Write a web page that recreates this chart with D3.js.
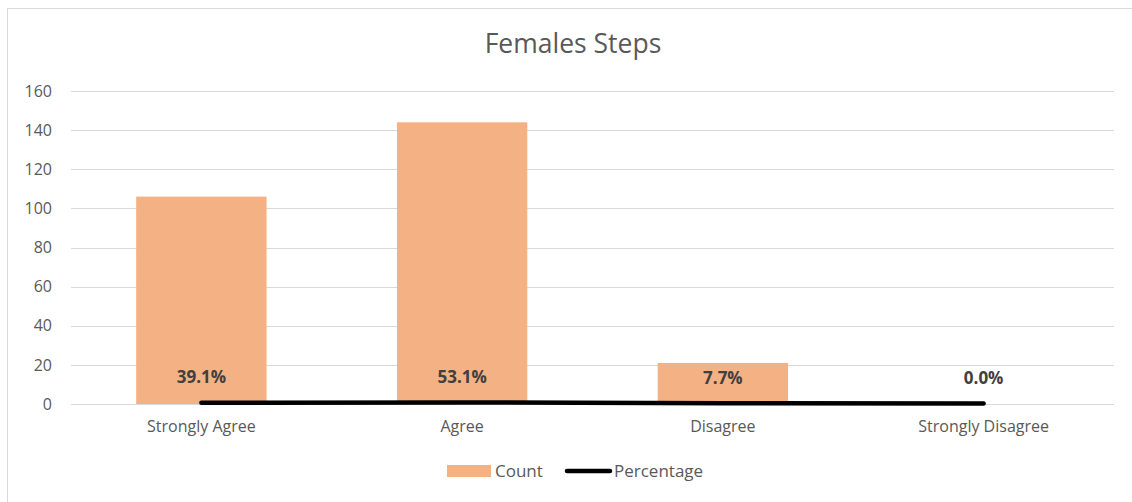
<!DOCTYPE html>
<html>
<head>
<meta charset="utf-8">
<script src="https://cdn.jsdelivr.net/npm/d3@7"></script>
<style>
  html, body { margin: 0; padding: 0; background: #fff; }
  svg { display: block; font-family: "Open Sans", "Liberation Sans", sans-serif; }
</style>
</head>
<body>
<svg id="chart" width="1132" height="502"></svg>
<script>
const categories = ["Strongly Agree", "Agree", "Disagree", "Strongly Disagree"];
const counts = [106, 144, 21, 0];
const percentages = [0.391, 0.531, 0.077, 0.0];
const yTicks = [0, 20, 40, 60, 80, 100, 120, 140, 160];
const titleText = "Females Steps";
const legendLabels = ["Count", "Percentage"];

const svg = d3.select("#chart");
const W = 1132, H = 502;
const margin = { left: 71, right: 18, top: 91, bottom: 98 };
const plotW = W - margin.left - margin.right;
const plotH = H - margin.top - margin.bottom;

// outer chart border
svg.append("rect")
  .attr("x", 7.5).attr("y", 8.5)
  .attr("width", W + 10).attr("height", H + 10)
  .attr("fill", "none").attr("stroke", "#d9d9d9").attr("stroke-width", 1);

const g = svg.append("g").attr("transform", `translate(${margin.left},${margin.top})`);

const x = d3.scaleBand().domain(categories).range([0, plotW]).paddingInner(0.5).paddingOuter(0.25);
const y = d3.scaleLinear().domain([0, 160]).range([plotH, 0]);

// gridlines
g.append("g").selectAll("line").data(yTicks).join("line")
  .attr("x1", 0).attr("x2", plotW)
  .attr("y1", d => Math.round(y(d)) + 0.5).attr("y2", d => Math.round(y(d)) + 0.5)
  .attr("stroke", "#d9d9d9").attr("stroke-width", 1);

// y axis labels
const yAxis = d3.axisLeft(y).tickValues(yTicks).tickSize(0).tickPadding(19);
const ya = g.append("g").call(yAxis);
ya.select(".domain").remove();
ya.selectAll("text").attr("fill", "#595959").style("font-size", "16px")
  .attr("font-family", "\"Open Sans\", sans-serif");

// bars
g.append("g").selectAll("rect").data(counts).join("rect")
  .attr("x", (d, i) => x(categories[i]))
  .attr("width", x.bandwidth())
  .attr("y", d => y(d))
  .attr("height", d => plotH - y(d))
  .attr("fill", "#f4b183");

// x axis labels
const xAxis = d3.axisBottom(x).tickSize(0).tickPadding(17);
const xa = g.append("g").attr("transform", `translate(0,${plotH})`).call(xAxis);
xa.select(".domain").remove();
xa.selectAll("text").attr("fill", "#595959").style("font-size", "16px")
  .attr("font-family", "\"Open Sans\", sans-serif");

// percentage line (plotted on same axis)
const cx = c => x(c) + x.bandwidth() / 2;
const line = d3.line().x((d, i) => cx(categories[i])).y(d => y(d) - 0.5);
g.append("path").datum(percentages)
  .attr("d", line)
  .attr("fill", "none").attr("stroke", "#000").attr("stroke-width", 4.5)
  .attr("stroke-linecap", "round");

// percentage labels
g.append("g").selectAll("text").data(percentages).join("text")
  .attr("x", (d, i) => cx(categories[i]))
  .attr("y", d => y(d) - 20)
  .attr("text-anchor", "middle")
  .attr("fill", "#404040")
  .style("font-size", "17px").style("font-weight", "bold")
  .text(d => d3.format(".1%")(d));

// title
svg.append("text")
  .attr("x", 573).attr("y", 53)
  .attr("text-anchor", "middle")
  .attr("fill", "#595959")
  .style("font-size", "26.5px")
  .text(titleText);

// legend
const lg = svg.append("g").attr("transform", "translate(0,471)");
lg.append("rect").attr("x", 447).attr("y", -6).attr("width", 44).attr("height", 12).attr("fill", "#f4b183");
lg.append("text").attr("x", 495).attr("y", 6).attr("fill", "#595959").style("font-size", "17px").text(legendLabels[0]);
lg.append("line").attr("x1", 567).attr("x2", 610).attr("y1", 0).attr("y2", 0)
  .attr("stroke", "#000").attr("stroke-width", 4.5).attr("stroke-linecap", "round");
lg.append("text").attr("x", 614).attr("y", 6).attr("fill", "#595959").style("font-size", "17px").text(legendLabels[1]);
</script>
</body>
</html>
